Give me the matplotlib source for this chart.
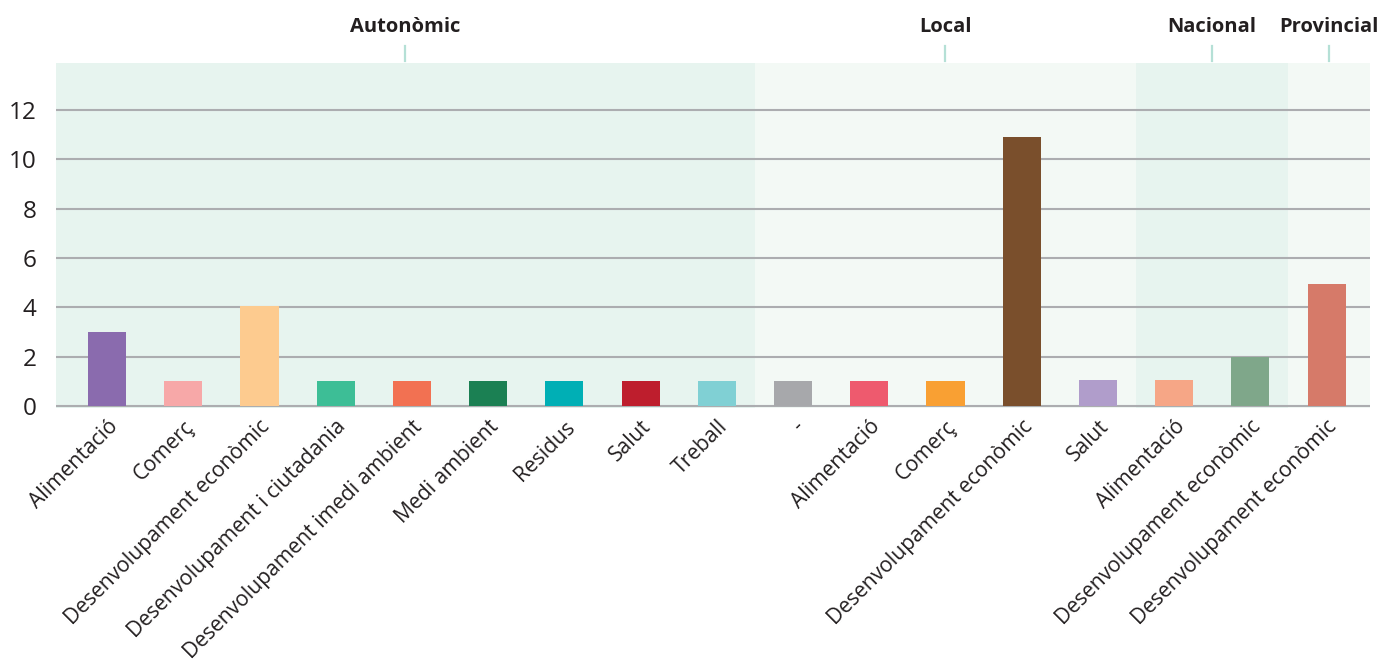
import numpy as np
import matplotlib.pyplot as plt
from matplotlib.transforms import blended_transform_factory

plt.rcParams['font.family'] = ['Open Sans', 'DejaVu Sans']

# data
groups = ["Autonòmic", "Local", "Nacional", "Provincial"]
group_sizes = [9, 5, 2, 1]
categories = ["Alimentació", "Comerç", "Desenvolupament econòmic",
              "Desenvolupament i ciutadania", "Desenvolupament imedi ambient",
              "Medi ambient", "Residus", "Salut", "Treball",
              "-", "Alimentació", "Comerç", "Desenvolupament econòmic", "Salut",
              "Alimentació", "Desenvolupament econòmic",
              "Desenvolupament econòmic"]
values = [3, 1, 4.05, 1, 1, 1, 1, 1, 1,
          1, 1, 1, 10.9, 1.05,
          1.05, 2,
          4.95]
bar_colors = ["#8a6bae", "#f7a8a8", "#fdcb8f", "#3dbe96", "#f27152",
              "#1b8053", "#00afb5", "#be1e2d", "#80d0d4",
              "#a7a8ab", "#ee5a6e", "#f9a033", "#7a4f2c", "#b09dcb",
              "#f6a686", "#7fa78a",
              "#d67a69"]
band_colors = ["#e7f4ef", "#f3f9f5", "#e7f4ef", "#f3f9f5"]

fig = plt.figure(figsize=(13.78, 6.64), dpi=100)
ax = fig.add_axes([0.0406, 0.3855, 0.9536, 0.5196])

x = np.arange(len(categories))
xmin, xmax = -0.67, len(categories) - 1 + 0.57
ax.set_xlim(xmin, xmax)
ax.set_ylim(-0.08, 13.9)

# group bands, ticks and labels on top
trans = blended_transform_factory(ax.transData, ax.transAxes)
start = 0
for g, n, c in zip(groups, group_sizes, band_colors):
    lo = xmin if start == 0 else start - 0.5
    hi = xmax if start + n == len(categories) else start + n - 0.5
    ax.axvspan(lo, hi, color=c, zorder=0, lw=0)
    mid = (lo + hi) / 2
    ax.plot([mid, mid], [1.005, 1.05], transform=trans, color="#b5e0d6",
            lw=1.6, clip_on=False)
    ax.text(mid, 1.105, g, transform=trans, ha="center", va="center",
            fontsize=14.5, fontweight="bold", color="#231f20")
    start += n

for yv in range(0, 13, 2):
    ax.axhline(yv, color="#acadb0", lw=1.5, zorder=1)

ax.bar(x, values, width=0.5, color=bar_colors, zorder=2)

ax.set_yticks(range(0, 13, 2))
ax.tick_params(axis="y", length=0, pad=14, labelsize=17.5, labelcolor="#231f20")
ax.set_xticks(x)
ax.set_xticklabels(categories, rotation=45, ha="right", rotation_mode="anchor",
                   fontsize=15.2, color="#231f20")
ax.tick_params(axis="x", length=0, pad=6)

for s in ax.spines.values():
    s.set_visible(False)

fig.savefig("out.png", dpi=100, facecolor="white")
